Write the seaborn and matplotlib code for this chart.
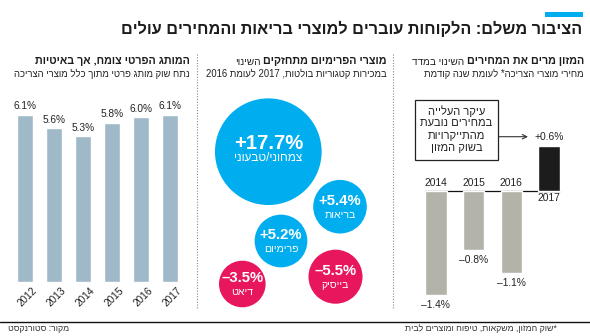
import os
import re
import numpy as np
import pandas as pd
import matplotlib
matplotlib.use("Agg")
import matplotlib.pyplot as plt
import matplotlib.font_manager as fm
from matplotlib.colors import PowerNorm
from matplotlib.ft2font import FT2Font
from matplotlib.patches import Rectangle
from matplotlib.lines import Line2D
import seaborn as sns

# ---------------- data ----------------
title = "הציבור משלם: הלקוחות עוברים למוצרי בריאות והמחירים עולים"

pl_head = "המותג הפרטי צומח, אך באיטיות"
pl_sub = "נתח שוק מותג פרטי מתוך כלל מוצרי הצריכה"
pl_years = ["2012", "2013", "2014", "2015", "2016", "2017"]
pl_share = [6.1, 5.6, 5.3, 5.8, 6.0, 6.1]

pr_head_bold = "מוצרי הפרימיום מתחזקים"
pr_head_light = "השינוי"
pr_sub = "במכירות קטגוריות בולטות, 2017 לעומת 2016"
pr_cats = ["צמחוני/טבעוני", "בריאות", "פרימיום", "בייסיק", "דיאט"]
pr_change = [17.7, 5.4, 5.2, -5.5, -3.5]
# bubble layout (packing positions, in panel pixel units)
bub_x = [268.3, 340.0, 281.0, 335.5, 242.3]
bub_y = [151.7, 206.7, 241.0, 276.7, 284.0]

cpi_head_bold = "המזון מרים את המחירים"
cpi_head_light = "השינוי במדד"
cpi_sub = "מחירי מוצרי הצריכה* לעומת שנה קודמת"
cpi_years = ["2014", "2015", "2016", "2017"]
cpi_change = [-1.4, -0.8, -1.1, 0.6]
cpi_note = ["עיקר העלייה", "במחירים נובעת", "מהתייקרויות", "בשוק המזון"]

footnote = "*שוק המזון, משקאות, טיפוח ומוצרים לבית"
source = "מקור: סטורנקסט"

# ---------------- style ----------------
sns.set_style("white")
BLUE = "#00aeef"
PINK = "#e8175d"
BARBLUE = "#9fb9c8"
GREY = "#b4b3a9"
DARK = "#1c1c1c"
TXT = "#222222"


def has_glyph(path, ch):
    try:
        return FT2Font(path).get_char_index(ord(ch)) != 0
    except Exception:
        return False


def find_font(names, ch="א"):
    files = {os.path.basename(e.fname): e.fname for e in fm.fontManager.ttflist}
    for n in names:
        if n in files and has_glyph(files[n], ch):
            return files[n]
    return None


REG = find_font(["LiberationSans-Regular.ttf", "DejaVuSansCondensed.ttf", "DejaVuSans.ttf"])
BOLD = find_font(["LiberationSans-Bold.ttf", "DejaVuSansCondensed-Bold.ttf", "DejaVuSans-Bold.ttf"])
NUM = find_font(["LiberationSansNarrow-Regular.ttf", "LiberationSans-Regular.ttf",
                 "DejaVuSansCondensed.ttf", "DejaVuSans.ttf"], ch="5")
NUMB = find_font(["LiberationSansNarrow-Bold.ttf", "LiberationSans-Bold.ttf",
                  "DejaVuSansCondensed-Bold.ttf", "DejaVuSans-Bold.ttf"], ch="5")


def fp(bold=False, size=8, num=False):
    path = (NUMB if bold else NUM) if num else (BOLD if bold else REG)
    if path:
        return fm.FontProperties(fname=path, size=size)
    return fm.FontProperties(family="DejaVu Sans", weight="bold" if bold else "normal", size=size)


LTR = re.compile(r"[0-9A-Za-z%+.\u2013\-]+")


def heb(s):
    r = s[::-1]
    return LTR.sub(lambda m: m.group(0)[::-1], r)


W, H = 590, 336
fig = plt.figure(figsize=(W / 100, H / 100), dpi=100)
fig.patch.set_facecolor("white")
renderer = fig.canvas.get_renderer()


def fx(px):
    return px / W


def fy(py):
    return 1 - py / H


def ftext(x, y, s, bold=False, size=8, ha="right", va="center", color=TXT, num=False, **kw):
    return fig.text(fx(x), fy(y), s, fontproperties=fp(bold, size, num), ha=ha, va=va,
                    color=color, **kw)


def width(t):
    return t.get_window_extent(renderer).width


def fit(t, target):
    t.set_fontsize(t.get_fontsize() * target / width(t))
    return t.get_fontsize()


def probe(s, target, bold=False, num=False):
    t = fig.text(0, 0, s, fontproperties=fp(bold, 10, num))
    size = 10 * target / width(t)
    t.remove()
    return size


# font sizes derived from text widths measured on the reference
S_VAL = probe("6.1%", 23, num=True)
S_BIGVAL = probe("+17.7%", 70, bold=True, num=True)
S_SMVAL = probe("+5.4%", 43, bold=True, num=True)
S_BIGLAB = probe(heb("צמחוני/טבעוני"), 68)
S_SMLAB = probe(heb("בריאות"), 31)
S_NOTE = probe(heb("במחירים נובעת"), 72)
S_CPI = probe("2014", 23, num=True)

# ---------------- title ----------------
fig.add_artist(Rectangle((fx(545), fy(17)), fx(583) - fx(545), fy(12) - fy(17),
                         transform=fig.transFigure, color=BLUE, lw=0))
t_title = ftext(582, 29, heb(title), bold=True, size=13, color=DARK)
fit(t_title, 460)

# ---------------- headers ----------------
hb = ftext(190, 61, heb(pl_head), bold=True, size=9, color=DARK)
HB = fit(hb, 155)
hs = ftext(190, 74, heb(pl_sub), size=7, color=TXT)
HS = fit(hs, 178)


def header(xr, bold_s, light_s, sub_s):
    b = ftext(xr, 61, heb(bold_s), bold=True, size=HB, color=DARK)
    wb = width(b)
    ftext(xr - wb - 3, 61.6, heb(light_s), size=HS * 1.05, color=TXT)
    ftext(xr, 74, heb(sub_s), size=HS, color=TXT)


header(386.7, pr_head_bold, pr_head_light, pr_sub)
header(584, cpi_head_bold, cpi_head_light, cpi_sub)

# separators
for xs in (196.5, 392.5):
    fig.add_artist(Line2D([fx(xs), fx(xs)], [fy(54), fy(309)], transform=fig.transFigure,
                          color="#8a8a8a", lw=0.8, ls=(0, (1, 1.5))))
fig.add_artist(Line2D([0, 1], [fy(322), fy(322)], transform=fig.transFigure,
                      color="#111111", lw=1.0))
ftext(8, 328.5, heb(source), size=6.3, ha="left", color="#333333")
ftext(557, 328.5, heb(footnote), size=6.3, ha="right", color="#333333")

# ---------------- left panel: private label share ----------------
ax1 = fig.add_axes([fx(10.5), fy(281.7), 174 / W, (281.7 - 89.9) / H])
df1 = pd.DataFrame({"year": pl_years, "share": pl_share})
sns.barplot(data=df1, x="year", y="share", color=BARBLUE, saturation=1, width=0.55, ax=ax1)
ax1.set_xlim(-0.5, 5.5)
ax1.set_ylim(0, 7)
ax1.set_axis_off()
for i, (yr, v) in enumerate(zip(pl_years, pl_share)):
    ax1.text(i, v + 0.31, f"{v:.1f}%", ha="center", va="center",
             fontproperties=fp(False, S_VAL, num=True), color=TXT)
    ax1.text(i + 0.24, -0.12, yr, ha="right", va="top", rotation=45,
             rotation_mode="anchor", fontproperties=fp(False, S_VAL, num=True), color=TXT,
             clip_on=False)

# ---------------- middle panel: bubbles ----------------
ax2 = fig.add_axes([fx(197), fy(320), (393 - 197) / W, (320 - 85) / H])
df2 = pd.DataFrame({"cat": pr_cats, "chg": pr_change, "bx": bub_x, "by": bub_y})
df2["mag"] = df2["chg"].abs()
df2["sign"] = np.where(df2["chg"] > 0, "up", "down")
sns.scatterplot(data=df2, x="bx", y="by", hue="sign", palette={"up": BLUE, "down": PINK},
                size="mag", sizes=(1126, 5898),
                size_norm=PowerNorm(gamma=1.28, vmin=df2["mag"].min(), vmax=df2["mag"].max()),
                legend=False, linewidth=0, alpha=1, ax=ax2)
ax2.set_xlim(197, 393)
ax2.set_ylim(320, 85)
ax2.set_axis_off()
for _, r in df2.iterrows():
    big = r["mag"] > 10
    val = ("+" if r["chg"] > 0 else "\u2013") + f"{abs(r['chg']):.1f}%"
    ax2.text(r["bx"], r["by"] - (8.4 if big else 5.7), val, ha="center", va="center",
             color="white", fontproperties=fp(True, S_BIGVAL if big else S_SMVAL, num=True))
    ax2.text(r["bx"], r["by"] + (6.5 if big else 7.8), heb(r["cat"]), ha="center",
             va="center", color="white", fontproperties=fp(False, S_BIGLAB if big else S_SMLAB))

# ---------------- right panel: CPI ----------------
ax3 = fig.add_axes([fx(417), fy(324.8), 150.8 / W, (324.8 - 86.4) / H])
df3 = pd.DataFrame({"year": cpi_years, "chg": cpi_change})
sns.barplot(data=df3, x="year", y="chg", hue="year", palette=[GREY, GREY, GREY, DARK],
            saturation=1, width=0.57, legend=False, ax=ax3)
ax3.set_xlim(-0.5, 3.5)
ax3.set_ylim(-1.8, 1.4)
ax3.set_axis_off()
ax3.axhline(0, xmin=(425 - 417) / 150.8, xmax=(560 - 417) / 150.8, color="#111111",
            lw=0.9, zorder=0.5)
for i, (yr, v) in enumerate(zip(cpi_years, cpi_change)):
    f = fp(False, S_CPI, num=True)
    if v < 0:
        ax3.text(i, 0.1, yr, ha="center", va="center", fontproperties=f, color=TXT)
        ax3.text(i, v - 0.135, f"\u2013{abs(v):.1f}%", ha="center", va="center",
                 fontproperties=f, color=TXT)
    else:
        ax3.text(i, -0.1, yr, ha="center", va="center", fontproperties=f, color=TXT)
        ax3.text(i, v + 0.125, f"+{v:.1f}%", ha="center", va="center",
                 fontproperties=f, color=TXT)

# annotation box
fig.add_artist(Rectangle((fx(415), fy(160)), fx(498) - fx(415), fy(100) - fy(160),
                         transform=fig.transFigure, facecolor="white", edgecolor="#222222",
                         lw=0.9))
for k, line in enumerate(cpi_note):
    ftext(456.5, 111 + k * 12.3, heb(line), size=S_NOTE, ha="center", color=TXT)
ax3.annotate("", xy=(fx(528), fy(136.7)), xytext=(fx(499), fy(136.7)),
             xycoords="figure fraction", textcoords="figure fraction",
             arrowprops=dict(arrowstyle="->", color="#333333", lw=0.8,
                             shrinkA=0, shrinkB=0, mutation_scale=8))

fig.savefig("out.png", dpi=100)
